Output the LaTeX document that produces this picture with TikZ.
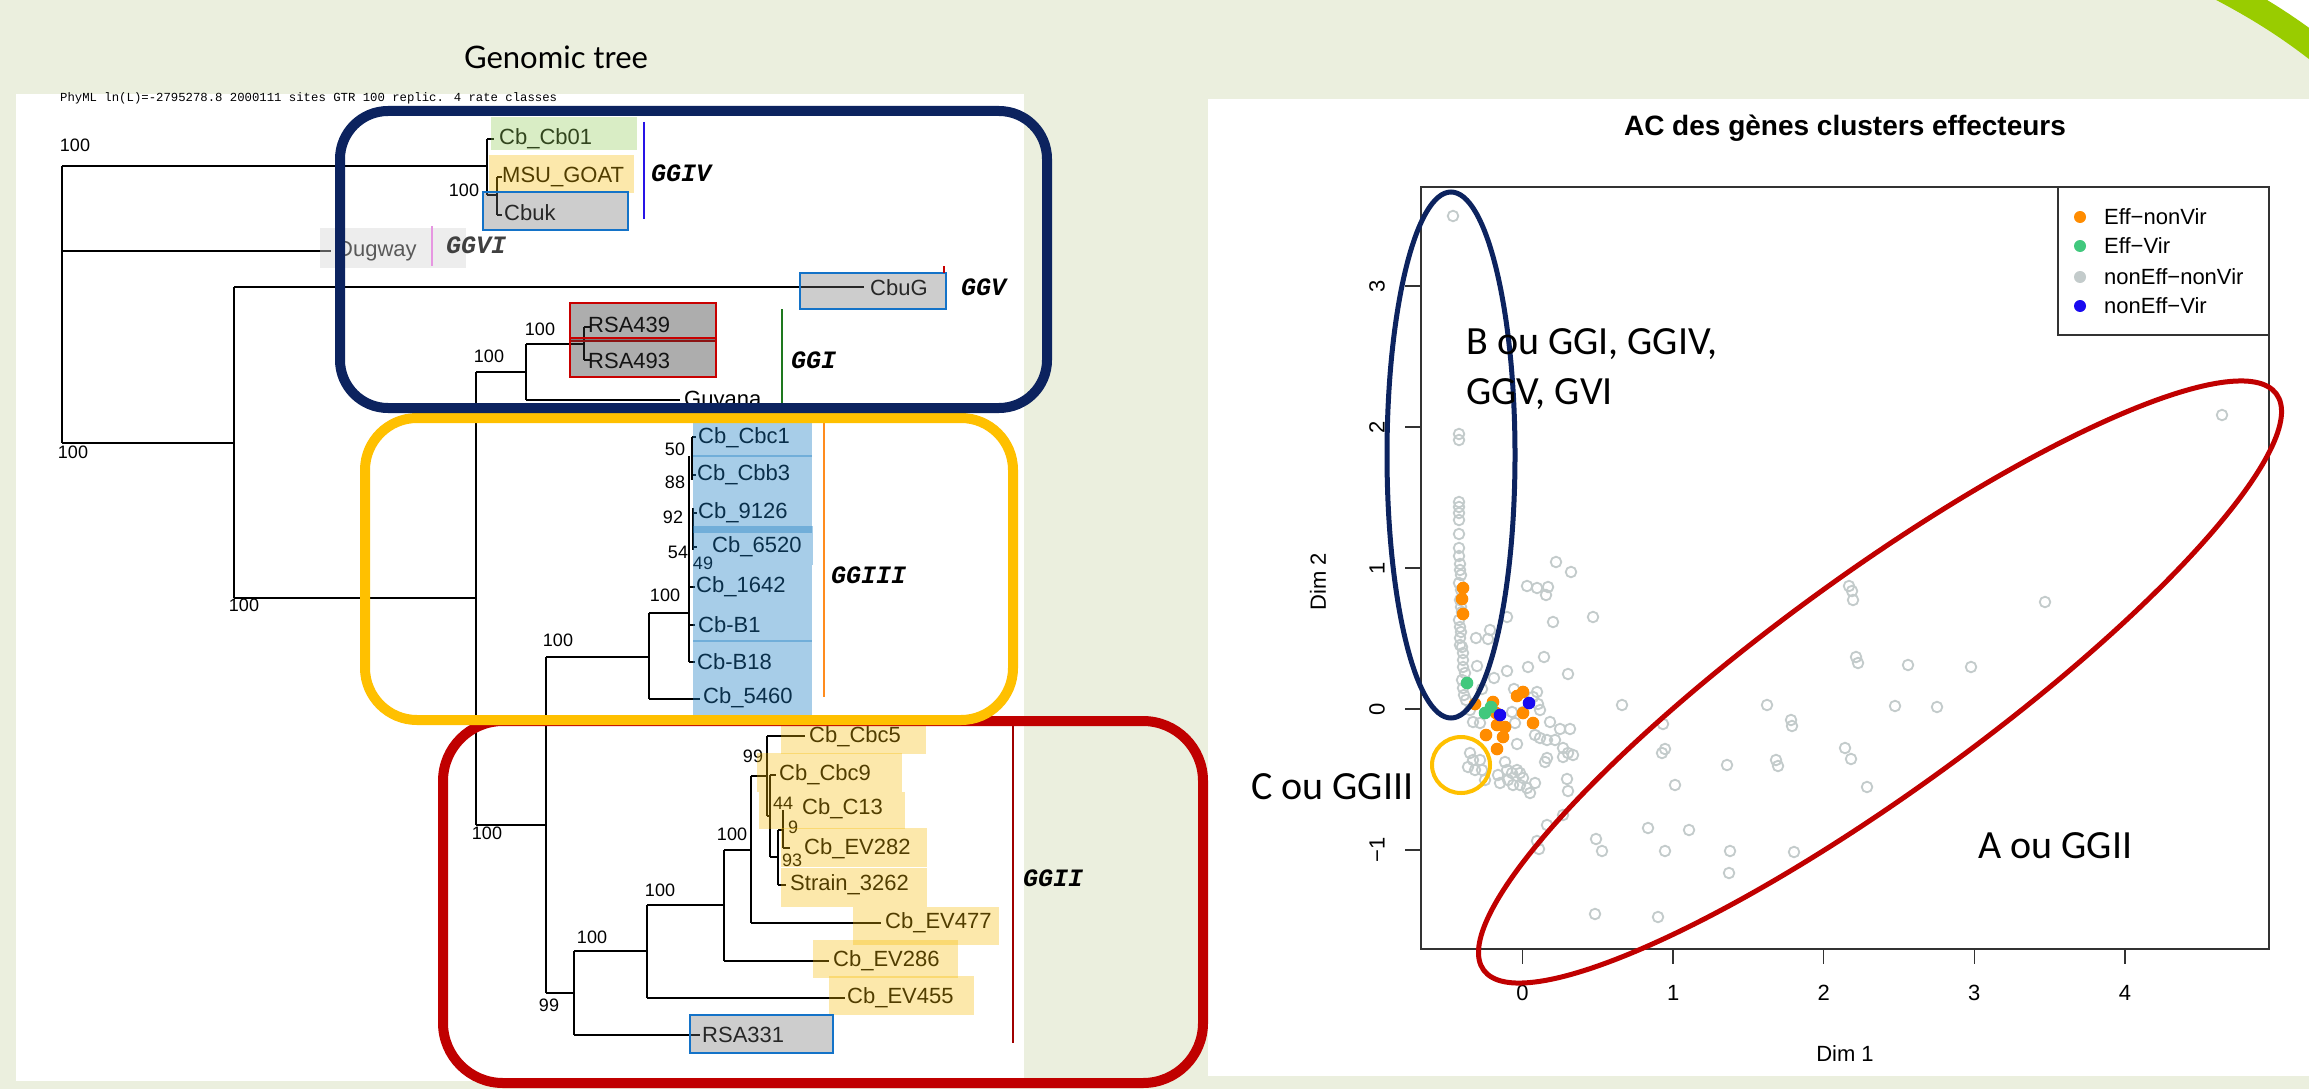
\documentclass[tikz,border=0pt]{standalone}
\usepackage{fontspec}
\setmainfont{Liberation Sans}
\newfontfamily\latof{Lato}
\newfontfamily\carlf{Carlito}
\newfontfamily\monof{Liberation Mono}
\definecolor{bgc}{RGB}{235,239,222}
\definecolor{navyc}{RGB}{12,35,95}
\definecolor{yelc}{RGB}{255,192,0}
\definecolor{redc}{RGB}{192,0,0}
\definecolor{limec}{RGB}{153,204,0}
\definecolor{ovyc}{RGB}{248,188,0}
\definecolor{ovbc}{RGB}{26,124,195}
\definecolor{ovgc}{RGB}{145,203,87}
\definecolor{ovgrc}{RGB}{114,114,114}
\definecolor{ovdkc}{RGB}{50,50,50}
\definecolor{ovltc}{RGB}{214,214,214}
\definecolor{bordblue}{RGB}{20,115,200}
\definecolor{bordred}{RGB}{200,0,0}
\definecolor{ggivc}{RGB}{40,20,230}
\definecolor{ggvic}{RGB}{230,150,225}
\definecolor{ggic}{RGB}{30,120,30}
\definecolor{ggiiic}{RGB}{255,140,30}
\definecolor{ggiic}{RGB}{160,0,0}
\definecolor{ptgray}{RGB}{195,203,203}
\definecolor{ptorange}{RGB}{255,140,0}
\definecolor{ptgreen}{RGB}{65,200,125}
\definecolor{ptblue}{RGB}{25,10,240}
\begin{document}
\begin{tikzpicture}[x=1pt,y=-1pt,
  br/.style={line width=2.2pt, black},
  lab/.style={font=\fontsize{22}{24}\selectfont, anchor=west, inner sep=0pt},
  bs/.style={font=\fontsize{18}{20}\selectfont, inner sep=0pt},
  gg/.style={font=\monof\bfseries\itshape\fontsize{25}{27}\selectfont, anchor=west, inner sep=0pt},
  ovY/.style={fill=ovyc, fill opacity=0.33},
  ovB/.style={fill=ovbc, fill opacity=0.38},
  ovG/.style={fill=ovgc, fill opacity=0.345},
  ovGr/.style={fill=ovgrc, fill opacity=0.35},
  ovDk/.style={fill=ovdkc, fill opacity=0.4},
  ovLt/.style={fill=ovltc, fill opacity=0.42},
  grpline/.style={line width=2.2pt},
  gpt/.style={draw=ptgray, line width=1.8pt},
  ax/.style={font=\fontsize{22}{24}\selectfont, inner sep=0pt},
  ann/.style={font=\carlf\fontsize{40}{42}\selectfont, anchor=west, inner sep=0pt}
]
\useasboundingbox (0,0) rectangle (2309,1089);
\clip (0,0) rectangle (2309,1089);
% background and panels
\fill[bgc] (0,0) rectangle (2309,1089);
\fill[white] (16,94) rectangle (1024,1081);
\fill[white] (1208,99) rectangle (2309,1076);
% swoosh
\fill[white] (2240,-5) .. controls (2268,10) and (2290,22) .. (2320,42) -- (2320,-5) -- cycle;
\draw[limec, line width=25pt] (2185,-30) .. controls (2245,0) and (2285,22) .. (2340,68);

% titles
\node[font=\latof\fontsize{31}{33}\selectfont, inner sep=0pt] (gtitle) at (556,57) {Genomic tree};
\node[font=\monof\fontsize{12.3}{14}\selectfont, anchor=west, inner sep=0pt] (phyml) at (60,98) {PhyML ln(L)=-2795278.8 2000111 sites GTR 100 replic. 4 rate classes};

% ---------------- tree lines ----------------
\draw[br] (62,166) -- (62,443);
\draw[br] (62,166) -- (487,166);
\draw[br] (487,139) -- (487,195);
\draw[br] (487,139) -- (494,139);
\draw[br] (487,195) -- (497,195);
\draw[br] (497,177) -- (497,215);
\draw[br] (497,177) -- (502,177);
\draw[br] (497,215) -- (502,215);
\draw[br] (62,251) -- (331,251);
\draw[br] (62,443) -- (234,443);
\draw[br] (234,287) -- (234,598);
\draw[br] (234,287) -- (864,287);
\draw[br] (234,598) -- (476,598);
\draw[br] (476,372) -- (476,825);
\draw[br] (476,372) -- (526,372);
\draw[br] (526,344) -- (526,400);
\draw[br] (526,344) -- (584,344);
\draw[br] (584,327) -- (584,360);
\draw[br] (584,327) -- (590,327);
\draw[br] (584,360) -- (590,360);
\draw[br] (526,400) -- (680,400);
\draw[br] (476,825) -- (546,825);
\draw[br] (546,657) -- (546,993);
\draw[br] (546,657) -- (649,657);
\draw[br] (649,613) -- (649,699);
\draw[br] (649,613) -- (689,613);
\draw[br] (649,699) -- (700,699);
% GGIII inner
\draw[br] (689,456) -- (689,662);
\draw[br] (692,437) -- (692,480);
\draw[br] (692,437) -- (696,437);
\draw[br] (692,475) -- (696,475);
\draw[br] (693,508) -- (693,550);
\draw[br] (693,513) -- (697,513);
\draw[br] (693,547) -- (697,547);
\draw[br] (689,587) -- (695,587);
\draw[br] (689,625) -- (695,625);
\draw[br] (689,662) -- (695,662);
% GGII
\draw[br] (546,993) -- (574,993);
\draw[br] (574,951) -- (574,1035);
\draw[br] (574,951) -- (647,951);
\draw[br] (574,1035) -- (700,1035);
\draw[br] (647,905) -- (647,998);
\draw[br] (647,905) -- (724,905);
\draw[br] (647,998) -- (845,998);
\draw[br] (724,850) -- (724,961);
\draw[br] (724,850) -- (751,850);
\draw[br] (724,961) -- (829,961);
\draw[br] (751,776) -- (751,923);
\draw[br] (751,776) -- (767,776);
\draw[br] (751,923) -- (881,923);
\draw[br] (767,736) -- (767,816);
\draw[br] (767,736) -- (805,736);
\draw[br] (767,816) -- (770,816);
\draw[br] (770,775) -- (770,857);
\draw[br] (770,775) -- (776,775);
\draw[br] (770,857) -- (778,857);
\draw[br] (778,830) -- (778,885);
\draw[br] (778,830) -- (783,830);
\draw[br] (778,885) -- (786,885);
\draw[br] (783,810) -- (783,848);
\draw[br] (783,848) -- (790,848);

% ---------------- labels ----------------
\node[lab] (lcb01) at (499,139) {Cb\_Cb01};
\node[lab] (lmsu) at (502,177) {MSU\_GOAT};
\node[lab] (lcbuk) at (504,213) {Cbuk};
\node[lab] (ldug) at (337,251) {Dugway};
\node[lab] (lcbug) at (870,288) {CbuG};
\node[lab] (lrsa439) at (588,325) {RSA439};
\node[lab] (lrsa493) at (588,361) {RSA493};
\node[lab] (lguy) at (684,401) {Guyana};
\node[lab] (lcbc1) at (698,438) {Cb\_Cbc1};
\node[lab] (lcbb3) at (697,475) {Cb\_Cbb3};
\node[lab] (l9126) at (698,513) {Cb\_9126};
\node[lab] (l6520) at (712,547) {Cb\_6520};
\node[lab] (l1642) at (696,587) {Cb\_1642};
\node[lab] (lb1) at (698,625) {Cb-B1};
\node[lab] (lb18) at (697,662) {Cb-B18};
\node[lab] (l5460) at (703,698) {Cb\_5460};
\node[lab] (lcbc5) at (809,737) {Cb\_Cbc5};
\node[lab] (lcbc9) at (779,775) {Cb\_Cbc9};
\node[lab] (lc13) at (802,809) {Cb\_C13};
\node[lab] (lev282) at (804,849) {Cb\_EV282};
\node[lab] (lstr) at (790,885) {Strain\_3262};
\node[lab] (lev477) at (885,923) {Cb\_EV477};
\node[lab] (lev286) at (833,961) {Cb\_EV286};
\node[lab] (lev455) at (847,998) {Cb\_EV455};
\node[lab] (lrsa331) at (702,1035) {RSA331};

% bootstrap values
\node[bs] (b1) at (75,145) {100};
\node[bs] (b2) at (464,190) {100};
\node[bs] (b3) at (73,452) {100};
\node[bs] (b4) at (244,605) {100};
\node[bs] (b5) at (540,329) {100};
\node[bs] (b6) at (489,356) {100};
\node[bs] (b7) at (558,640) {100};
\node[bs] (b8) at (665,595) {100};
\node[bs] (b9) at (675,449) {50};
\node[bs] (b10) at (675,482) {88};
\node[bs] (b11) at (673,517) {92};
\node[bs] (b12) at (678,552) {54};
\node[bs] (b13) at (703,563) {49};
\node[bs] (b14) at (487,833) {100};
\node[bs] (b15) at (549,1005) {99};
\node[bs] (b16) at (592,937) {100};
\node[bs] (b17) at (660,890) {100};
\node[bs] (b18) at (732,834) {100};
\node[bs] (b19) at (753,756) {99};
\node[bs] (b20) at (783,803) {44};
\node[bs] (b21) at (793,827) {9};
\node[bs] (b22) at (792,860) {93};

% ---------------- overlays ----------------
\fill[ovG] (491,117) rectangle (637,150);
\fill[ovY] (489,155) rectangle (634,193);
\filldraw[ovGr, draw=bordblue, line width=2pt] (483,192) rectangle (628,230);
\fill[ovLt] (320,228) rectangle (466,268);
\filldraw[ovGr, draw=bordblue, line width=2pt] (800,273) rectangle (946,309);
\filldraw[ovDk, draw=bordred, line width=2pt] (570,303) rectangle (716,341);
\filldraw[ovDk, draw=bordred, line width=2pt] (570,338) rectangle (716,377);
\fill[ovB] (693,418) rectangle (812,457);
\fill[ovB] (693,455) rectangle (812,493);
\fill[ovB] (693,493) rectangle (812,533);
\fill[ovB] (693,526) rectangle (813,565);
\fill[ovB] (693,565) rectangle (812,603);
\fill[ovB] (693,603) rectangle (812,642);
\fill[ovB] (693,640) rectangle (812,679);
\fill[ovB] (693,679) rectangle (812,715);
\fill[ovY] (781,726) rectangle (926,754);
\fill[ovY] (757,753) rectangle (902,792);
\fill[ovY] (759,792) rectangle (905,829);
\fill[ovY] (781,828) rectangle (927,867);
\fill[ovY] (781,868) rectangle (927,907);
\fill[ovY] (853,907) rectangle (999,945);
\fill[ovY] (813,940) rectangle (958,978);
\fill[ovY] (829,976) rectangle (974,1015);
\filldraw[ovGr, draw=bordblue, line width=2pt] (690,1015) rectangle (833,1053);

% group lines and labels
\draw[grpline, ggivc] (644,122) -- (644,219);
\draw[grpline, ggvic] (432,226) -- (432,266);
\draw[grpline, bordred] (944,266) -- (944,273);
\draw[grpline, ggic] (782,309) -- (782,403);
\draw[grpline, ggiiic] (824,423) -- (824,697);
\draw[grpline, ggiic] (1013,722) -- (1013,1043);
\node[gg] (ggiv) at (651,173) {GGIV};
\node[gg, text=black!75] (ggvi) at (446,245) {GGVI};
\node[gg] (ggv) at (961,287) {GGV};
\node[gg] (ggi) at (791,360) {GGI};
\node[gg] (ggiii) at (831,575) {GGIII};
\node[gg] (ggii) at (1023,878) {GGII};

% rounded frames
\draw[redc, line width=10pt, rounded corners=60pt] (443,721) rectangle (1203,1083);
\draw[yelc, line width=10pt, rounded corners=52pt] (365,418) rectangle (1013,720);
\draw[navyc, line width=10pt, rounded corners=48pt] (340,111) rectangle (1047,408);

% ---------------- plot ----------------
\node[font=\bfseries\fontsize{28}{30}\selectfont, inner sep=0pt] (ptitle) at (1845,128) {AC des gènes clusters effecteurs};
\draw[black!80, line width=1.5pt] (1421,187) rectangle (2269,949);
\foreach \xv/\lb in {1522.5/0,1673.1/1,1823.7/2,1974.3/3,2124.9/4} {
  \draw[black!80, line width=1.5pt] (\xv,949) -- (\xv,964);
  \node[ax] (xl\lb) at (\xv,993) {\lb};
}
\foreach \yv/\lb/\nm in {850/−1/m1,709/0/z0,568/1/p1,427/2/p2,286/3/p3} {
  \draw[black!80, line width=1.5pt] (1405,\yv) -- (1421,\yv);
  \node[ax, rotate=90] (yl\nm) at (1377,\yv) {\lb};
}
\node[ax] (dim1) at (1845,1054) {Dim 1};
\node[ax, rotate=90] (dim2) at (1318,582) {Dim 2};

% legend
\draw[black!80, line width=1.5pt] (2058,187) rectangle (2269,335);
\fill[ptorange] (2080,217) circle[radius=6];
\fill[ptgreen] (2080,246) circle[radius=6];
\fill[ptgray] (2080,277) circle[radius=6];
\fill[ptblue] (2080,306) circle[radius=6];
\node[ax, anchor=west] (lg1) at (2104,217) {Eff−nonVir};
\node[ax, anchor=west] (lg2) at (2104,246) {Eff−Vir};
\node[ax, anchor=west] (lg3) at (2104,277) {nonEff−nonVir};
\node[ax, anchor=west] (lg4) at (2104,306) {nonEff−Vir};

% gray points
\foreach \p in {(1453,216),(1459,434),(1459,440),(1459,502),(1459,507),(1459,513),(1459,520),(1459,534),(1459,548),(1459,556),
(1622,705),(1767,705),(1663,724),(1791,720),(1792,726),(1849,586),(1852,591),(1853,600),(2045,602),(1856,657),(1858,663),(1908,665),(1971,667),(1895,706),(1937,707),(1665,749),(1662,753),(1727,765),(1776,760),(1778,766),(1845,748),(1851,759),(1675,785),(1867,787),(1563,815),(1547,825),(1537,841),(1539,849),(1648,828),(1689,830),(1596,839),(1602,851),(1665,851),(1730,851),(1729,873),(1794,852),(1595,914),(1658,917),(2222,415),
(1460,564),(1460,570),(1461,575),(1459,583),(1461,590),(1460,600),(1461,607),(1462,612),(1459,620),(1460,627),(1461,632),(1460,638),(1460,645),(1462,647),(1463,653),(1463,660),(1463,667),(1465,673),(1462,680),(1463,688),(1464,695),(1466,700),(1470,710),
(1556,562),(1571,572),(1527,586),(1537,588),(1548,587),(1546,595),(1593,617),(1553,622),(1507,617),
(1490,630),(1476,638),(1488,639),(1544,657),(1528,667),(1507,671),(1477,666),(1568,674),
(1494,678),(1482,689),(1514,689),(1523,692),(1537,692),(1533,697),(1538,704),(1540,710),(1523,712),(1512,712),
(1473,722),(1480,723),(1550,722),(1560,729),(1570,729),(1515,723),
(1535,735),(1540,738),(1547,740),(1555,740),(1563,748),(1568,753),(1563,757),(1573,755),(1547,758),(1545,762),(1517,744),
(1470,753),(1473,760),(1480,760),(1468,767),(1475,770),(1482,770),
(1505,762),(1507,770),(1512,773),(1517,770),(1520,773),(1523,778),(1498,775),(1500,783),(1508,780),(1513,785),(1520,785),(1527,788),(1535,783),(1530,793),(1567,779),(1568,791),(1485,780)}
  \draw[gpt] \p circle[radius=5.3];
% colored points
\foreach \p in {(1463,588),(1462,599),(1463,614),(1475,704),(1493,702),(1496,713),(1523,692),(1517,696),(1523,713),(1533,723),(1497,725),(1505,727),(1486,735),(1503,737),(1497,749)}
  \fill[ptorange] \p circle[radius=6.3];
\foreach \p in {(1467,683),(1485,713),(1491,707)}
  \fill[ptgreen] \p circle[radius=6.3];
\foreach \p in {(1500,715),(1529,703)}
  \fill[ptblue] \p circle[radius=6.3];

% ellipses
\draw[navyc, line width=5pt] (1451,455) ellipse[x radius=64, y radius=263];
\draw[redc, line width=5pt, rotate around={36:(1880,682)}] (1880,682) ellipse[x radius=490, y radius=108];
\draw[yelc, line width=4pt] (1461,765) ellipse[x radius=29, y radius=28];

% annotations
\node[ann] (annb1) at (1466,344) {B ou GGI, GGIV,};
\node[ann] (annb2) at (1466,394) {GGV, GVI};
\node[ann] (annc) at (1251,787) {C ou GGIII};
\node[ann] (anna) at (1978,846) {A ou GGII};
\end{tikzpicture}
\end{document}
